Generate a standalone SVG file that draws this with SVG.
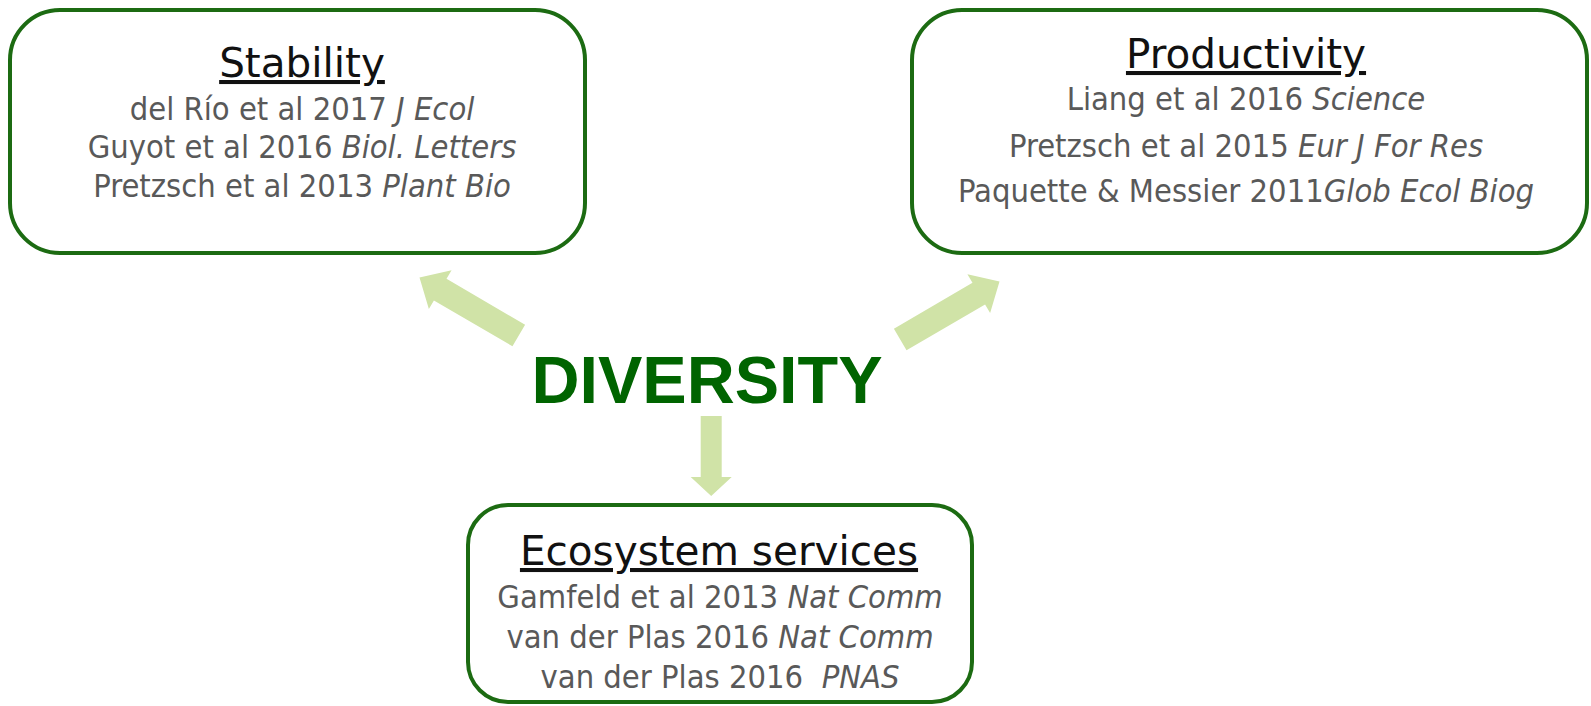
<svg xmlns="http://www.w3.org/2000/svg" width="1591" height="706" viewBox="0 0 1591 706">
<style>
.box{fill:#ffffff;stroke:#1c6b12;stroke-width:4}
.title{font-family:"DejaVu Sans",Verdana,sans-serif;font-size:40.5px;fill:#111111;text-anchor:middle;text-decoration:underline}
.ref{font-family:"DejaVu Sans Condensed","DejaVu Sans",sans-serif;font-stretch:condensed;font-size:32.4px;fill:#595959;text-anchor:middle;white-space:pre}
.it{font-style:italic}
.arrow{fill:#d0e3a7}
.div{font-family:"Liberation Sans",Arial,sans-serif;font-weight:bold;font-size:66.5px;fill:#006400;text-anchor:middle}
</style>
<defs>
<path id="diag" d="M-115,-12.5 L-24,-12.5 L-24,-22.5 L0,0 L-24,22.5 L-24,12.5 L-115,12.5 Z"/>
</defs>
<g id="connectors">
<use href="#diag" class="arrow" transform="translate(419.5,277.5) rotate(210.3)"/>
<use href="#diag" class="arrow" transform="translate(999.5,281.5) rotate(-30.3)"/>
<path class="arrow" d="M700.7,416 L721.7,416 L721.7,477 L731.7,477 L711.2,496 L690.7,477 L700.7,477 Z"/>
</g>
<g id="stability">
<rect class="box" x="10" y="10" width="575" height="243" rx="50"/>
<text class="title" x="302" y="77">Stability</text>
<text class="ref" x="302" y="119.5">del Río et al 2017 <tspan class="it">J Ecol</tspan></text>
<text class="ref" x="302" y="158">Guyot et al 2016 <tspan class="it">Biol. Letters</tspan></text>
<text class="ref" x="302" y="197">Pretzsch et al 2013 <tspan class="it">Plant Bio</tspan></text>
</g>
<g id="productivity">
<rect class="box" x="912" y="10" width="675" height="243" rx="50"/>
<text class="title" x="1246" y="68">Productivity</text>
<text class="ref" x="1246" y="110">Liang et al 2016 <tspan class="it">Science</tspan></text>
<text class="ref" x="1246" y="156.5">Pretzsch et al 2015 <tspan class="it">Eur J For Res</tspan></text>
<text class="ref" x="1246" y="202">Paquette &amp; Messier 2011<tspan class="it">Glob Ecol Biog</tspan></text>
</g>
<g id="diversity">
<text class="div" x="707" y="403">DIVERSITY</text>
</g>
<g id="ecosystem">
<rect class="box" x="468" y="505" width="504" height="197" rx="40"/>
<text class="title" x="719" y="565">Ecosystem services</text>
<text class="ref" x="720" y="607.5">Gamfeld et al 2013 <tspan class="it">Nat Comm</tspan></text>
<text class="ref" x="720" y="648">van der Plas 2016 <tspan class="it">Nat Comm</tspan></text>
<text class="ref" x="720" y="688">van der Plas 2016  <tspan class="it">PNAS</tspan></text>
</g>
</svg>
